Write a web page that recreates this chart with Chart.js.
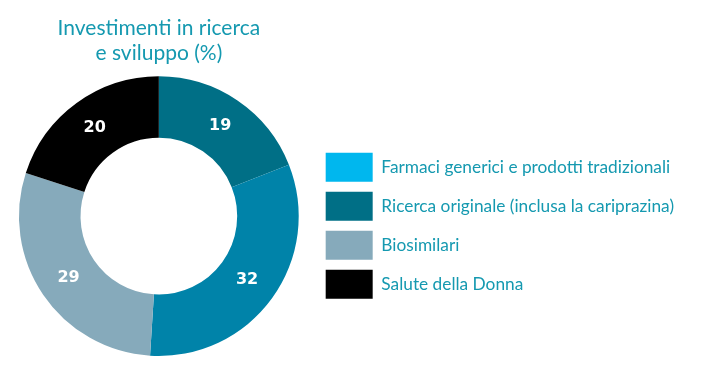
<!DOCTYPE html>
<html lang="it">
<head>
  <meta charset="UTF-8"/>
  <title>Investimenti in ricerca e sviluppo</title>
  <script src="https://cdn.jsdelivr.net/npm/chart.js"></script>
  <style>
    html, body { margin: 0; padding: 0; background: #fff; }
    .wrap { width: 701px; height: 384px; }
  </style>
</head>
<body>
  <div class="wrap"><canvas id="rdChart"></canvas></div>
  <script>
    // slices go clockwise from 12 o'clock in this order
    const categories = [
      "Ricerca originale (inclusa la cariprazina)",
      "Farmaci generici e prodotti tradizionali",
      "Biosimilari",
      "Salute della Donna"
    ];
    const shares = [19, 32, 29, 20];
    const legendOrder = [1, 0, 2, 3];
    const titleLines = ["Investimenti in ricerca", "e sviluppo (%)"];

    const sliceColors = ["#006f86", "#0083a9", "#86aabb", "#000000"];
    const legendColors = ["#006f86", "#00b7ee", "#86aabb", "#000000"];
    const teal = "#1599b0";

    // white numbers in the middle of each ring segment
    const sliceLabels = {
      id: "sliceLabels",
      afterDatasetsDraw(chart) {
        const ctx = chart.ctx;
        const meta = chart.getDatasetMeta(0);
        ctx.save();
        ctx.font = "bold 16px 'DejaVu Sans'";
        ctx.fillStyle = "#fff";
        ctx.textAlign = "center";
        ctx.textBaseline = "middle";
        meta.data.forEach((arc, i) => {
          const p = arc.getCenterPoint();
          ctx.fillText(String(shares[i]), p.x, p.y);
        });
        ctx.restore();
      }
    };

    new Chart(document.getElementById("rdChart"), {
      type: "doughnut",
      data: {
        labels: categories,
        datasets: [{
          data: shares,
          backgroundColor: sliceColors,
          borderWidth: 0,
          hoverOffset: 0
        }]
      },
      options: {
        responsive: true,
        maintainAspectRatio: false,
        animation: false,
        cutout: "56%",
        layout: { padding: { left: 2, right: 17, top: 0, bottom: 28 } },
        plugins: {
          tooltip: { enabled: false },
          title: {
            display: true,
            text: titleLines,
            fullSize: false,
            color: teal,
            font: { family: "Lato", size: 21, weight: "normal", lineHeight: 1.22 },
            padding: { top: 15, bottom: 10 }
          },
          legend: {
            position: "right",
            fullSize: false,
            align: "center",
            maxWidth: 420,
            title: { display: true, text: "", padding: 0, font: { size: 16 } },
            labels: {
              boxWidth: 47,
              boxHeight: 29,
              padding: 10,
              color: teal,
              font: { family: "Lato", size: 17.3 },
              sort: (a, b) => legendOrder.indexOf(a.index) - legendOrder.indexOf(b.index),
              generateLabels(chart) {
                const items = Chart.overrides.doughnut.plugins.legend.labels.generateLabels(chart);
                items.forEach(it => {
                  it.fillStyle = legendColors[it.index];
                  it.strokeStyle = legendColors[it.index];
                  it.lineWidth = 0;
                });
                return items;
              }
            }
          }
        }
      },
      plugins: [sliceLabels]
    });
  </script>
</body>
</html>
